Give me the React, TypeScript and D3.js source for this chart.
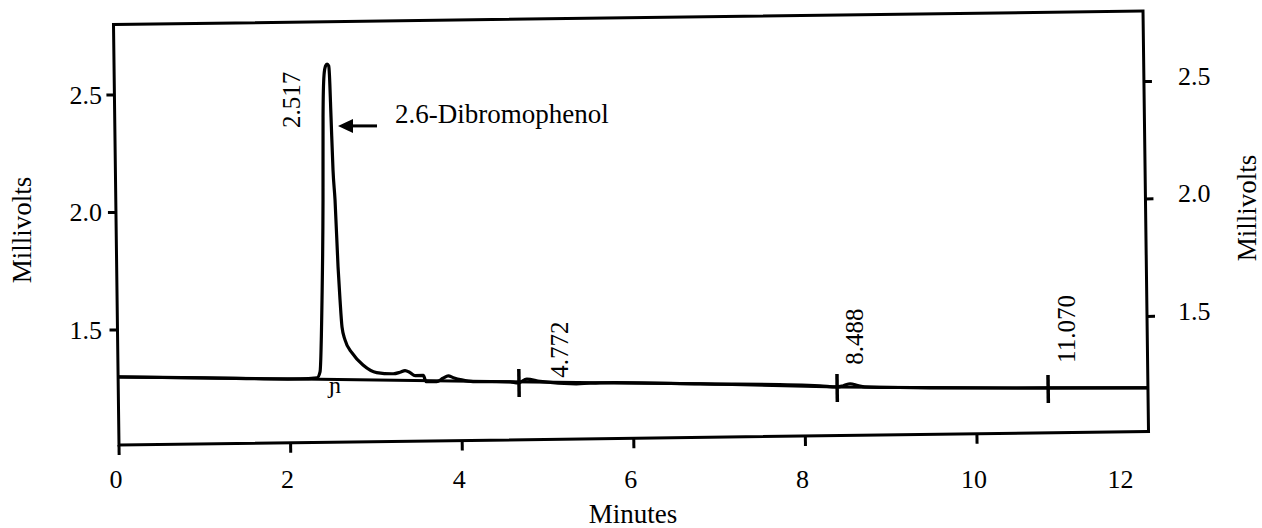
import React from "react";
import * as d3 from "d3";

// ---- data ----
const xTicks = [0, 2, 4, 6, 8, 10, 12];
const xTickLabels = ["0", "2", "4", "6", "8", "10", "12"];
const yTicks = [1.5, 2.0, 2.5];
const yTickLabels = ["1.5", "2.0", "2.5"];

// detector signal (minutes, millivolts)
const signalTime = [
  0, 1.0, 2.12, 2.318, 2.354, 2.388, 2.415, 2.428, 2.446, 2.465, 2.483, 2.502, 2.509,
  2.521, 2.536, 2.555, 2.58, 2.598, 2.617, 2.65, 2.73, 2.856, 3.014, 3.207, 3.286,
  3.345, 3.403, 3.461, 3.557, 3.588, 3.712, 3.786, 3.848, 3.907, 4.004, 4.135, 4.567,
  4.66, 4.762, 4.916, 5.382, 5.615, 6.781, 8.179, 8.378, 8.45, 8.53, 8.62, 8.7, 9.263,
  10.837, 12,
];
const signalMv = [
  1.3, 1.291, 1.281, 1.285, 1.31, 1.616, 2.042, 2.395, 2.574, 2.612, 2.62, 2.612, 2.573,
  2.394, 2.169, 2.041, 1.756, 1.615, 1.5, 1.445, 1.389, 1.337, 1.304, 1.298, 1.304,
  1.311, 1.302, 1.289, 1.289, 1.263, 1.262, 1.276, 1.286, 1.278, 1.268, 1.26, 1.257,
  1.252, 1.268, 1.257, 1.245, 1.248, 1.238, 1.223, 1.217, 1.222, 1.23, 1.222, 1.216, 1.21,
  1.201, 1.196,
];

// drawn integration baseline
const baseTime = [0, 2.12, 4.567, 5.615, 6.781, 8.378, 9.263, 10.837, 12];
const baseMv = [1.3, 1.281, 1.257, 1.248, 1.238, 1.217, 1.21, 1.201, 1.196];

// retention-time markers (position on trace) and their printed labels
const markerTime = [4.671, 8.378, 10.837];
const peakLabels = ["2.517", "4.772", "8.488", "11.070"];
const peakLabelTime = [2.158, 5.243, 8.683, 11.155];
const peakLabelMv = [2.349, 1.271, 1.31, 1.306];

const compoundName = "2.6-Dibromophenol";
const compoundArrowTime = 2.601;
const compoundArrowMv = 2.356;

// ---- layout ----
const W = 1262;
const H = 528;
const ANGLE = -0.75; // scanned page is slightly rotated
const FONT = "Liberation Serif, Times New Roman, serif";

const xScale = d3.scaleLinear().domain([0, 12]).range([119, 1148.6]);
const yScale = d3.scaleLinear().domain([1.01, 2.8]).range([445, 24.5]);
const px0 = xScale(0);
const py0 = yScale(1.01);
const rad = (ANGLE * Math.PI) / 180;

function proj(t: number, v: number): [number, number] {
  const x = xScale(t) - px0;
  const y = yScale(v) - py0;
  return [
    px0 + x * Math.cos(rad) - y * Math.sin(rad),
    py0 + x * Math.sin(rad) + y * Math.cos(rad),
  ];
}

const baselineAt = (t: number) => {
  const i = d3.bisectRight(baseTime, t) - 1;
  const j = Math.min(i + 1, baseTime.length - 1);
  if (i === j) return baseMv[i];
  const f = (t - baseTime[i]) / (baseTime[j] - baseTime[i]);
  return baseMv[i] + f * (baseMv[j] - baseMv[i]);
};

export default function App() {
  const signal = signalTime.map((t, i) => [t, signalMv[i]] as [number, number]);
  const base = baseTime.map((t, i) => [t, baseMv[i]] as [number, number]);
  const line = d3
    .line<[number, number]>()
    .x((d) => xScale(d[0]))
    .y((d) => yScale(d[1]))
    .curve(d3.curveMonotoneX);
  const straight = d3
    .line<[number, number]>()
    .x((d) => xScale(d[0]))
    .y((d) => yScale(d[1]));

  const [x0, x1] = xScale.range();
  const [yb, yt] = yScale.range();
  const tip = proj(compoundArrowTime, compoundArrowMv);
  const mark = proj(2.526, 1.241);

  return (
    <svg
      width={W}
      height={H}
      style={{ position: "absolute", left: 0, top: 0, display: "block", background: "#fff", fontFamily: FONT }}
    >
      <g transform={`rotate(${ANGLE} ${px0} ${py0})`} stroke="#000" fill="none">
        <rect x={x0} y={yt} width={x1 - x0} height={yb - yt} strokeWidth={3} />
        {yTicks.map((v) => (
          <g key={"yt" + v}>
            <line x1={x0 - 8} x2={x0} y1={yScale(v)} y2={yScale(v)} strokeWidth={3} />
            <line x1={x1} x2={x1 + 8} y1={yScale(v)} y2={yScale(v)} strokeWidth={3} />
          </g>
        ))}
        {xTicks
          .filter((t) => t < 12)
          .map((t) => (
            <line key={"xt" + t} x1={xScale(t)} x2={xScale(t)} y1={yb} y2={yb + 10} strokeWidth={3} />
          ))}
        <path d={straight(base) || ""} strokeWidth={3} />
        <path d={line(signal) || ""} strokeWidth={3.2} strokeLinejoin="round" />
        {markerTime.map((t) => (
          <line
            key={"m" + t}
            x1={xScale(t)}
            x2={xScale(t)}
            y1={yScale(baselineAt(t)) - 13}
            y2={yScale(baselineAt(t)) + 15}
            strokeWidth={3.5}
          />
        ))}
      </g>

      {/* peak retention labels */}
      {peakLabels.map((lab, i) => {
        const [x, y] = proj(peakLabelTime[i], peakLabelMv[i]);
        return (
          <text key={lab} transform={`translate(${x},${y}) rotate(-90)`} textAnchor="start" fontSize={25}>
            {lab}
          </text>
        );
      })}
      <text x={mark[0]} y={mark[1] + 5} fontSize={24} textAnchor="middle">
        ɲ
      </text>

      {/* compound annotation */}
      <polygon
        points={`${tip[0]},${tip[1]} ${tip[0] + 15},${tip[1] - 7} ${tip[0] + 15},${tip[1] + 7}`}
        fill="#000"
      />
      <line x1={tip[0] + 12} x2={tip[0] + 39} y1={tip[1]} y2={tip[1]} stroke="#000" strokeWidth={3} />
      <text x={tip[0] + 57} y={tip[1] - 3} fontSize={27}>
        {compoundName}
      </text>

      {/* axis labels (horizontal, added on the page) */}
      {xTicks.map((t, i) => (
        <text
          key={"xl" + t}
          x={t === 12 ? xScale(t) - 15 : xScale(t) - 3}
          y={488}
          fontSize={26}
          textAnchor={t === 12 ? "end" : "middle"}
        >
          {xTickLabels[i]}
        </text>
      ))}
      {yTicks.map((v, i) => (
        <text key={"yl" + v} x={102} y={yScale(v) + 9} fontSize={26} textAnchor="end">
          {yTickLabels[i]}
        </text>
      ))}
      {yTicks.map((v, i) => (
        <text key={"yr" + v} x={1178} y={yScale(v) - 19 + 9} fontSize={26} textAnchor="start">
          {yTickLabels[i]}
        </text>
      ))}
      <text x={633} y={523} fontSize={27} textAnchor="middle">
        Minutes
      </text>
      <text transform="translate(31,230) rotate(-90)" fontSize={27} textAnchor="middle">
        Millivolts
      </text>
      <text transform="translate(1256,208) rotate(-90)" fontSize={27} textAnchor="middle">
        Millivolts
      </text>
    </svg>
  );
}
